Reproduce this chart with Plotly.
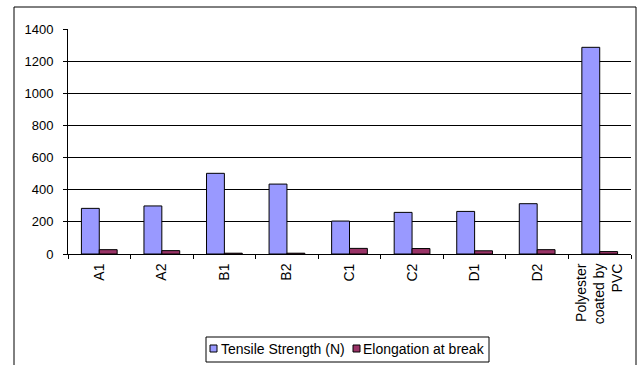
import plotly.graph_objects as go

categories = ["A1", "A2", "B1", "B2", "C1", "C2", "D1", "D2", "Polyester<br>coated by<br>PVC"]
tensile_strength = [284, 299, 502, 435, 205, 259, 265, 313, 1286]
elongation = [27, 21, 5, 5, 35, 34, 20, 27, 15]
y_ticks = [0, 200, 400, 600, 800, 1000, 1200, 1400]
series_names = ["Tensile Strength (N)", "Elongation at break"]
series_colors = ["#9999FF", "#993366"]

FONT = "Liberation Sans, Arial, sans-serif"

fig = go.Figure()
for name, color, values in zip(series_names, series_colors, [tensile_strength, elongation]):
    fig.add_trace(go.Bar(
        name=name, x=categories, y=values,
        marker=dict(color=color, line=dict(color="black", width=1)),
    ))

# Plot area spans 68..631 px horizontally and 29..254 px vertically;
# helpers turn pixel offsets into paper coordinates for the legend box.
L, R, T, B = 68, 631, 29, 254
def px(x):
    return (x - L) / (R - L)
def py(y):
    return (B - y) / (B - T)

shapes = [
    # chart-area frame
    dict(type="rect", xref="paper", yref="paper",
         x0=px(14), x1=px(636), y0=py(400), y1=py(7),
         line=dict(color="black", width=1), fillcolor="rgba(0,0,0,0)"),
    # legend frame
    dict(type="rect", xref="paper", yref="paper",
         x0=px(206), x1=px(489), y0=py(362), y1=py(337),
         line=dict(color="black", width=1), fillcolor="white"),
]
annotations = []
swatch_x = [210, 353]
text_x = [220, 362]
for sx, tx, name, color in zip(swatch_x, text_x, series_names, series_colors):
    shapes.append(dict(type="rect", xref="paper", yref="paper",
                       x0=px(sx), x1=px(sx + 7), y0=py(352), y1=py(345),
                       line=dict(color="black", width=1), fillcolor=color))
    annotations.append(dict(text=name, xref="paper", yref="paper",
                            x=px(tx), y=py(348.5), xanchor="left", yanchor="middle",
                            showarrow=False, font=dict(size=14, family=FONT, color="black"),
                            borderpad=0))

fig.update_layout(
    width=641, height=365,
    margin=dict(l=L, r=641 - R, t=T, b=365 - B),
    paper_bgcolor="white", plot_bgcolor="white",
    barmode="group", bargap=0.4286, bargroupgap=0,
    font=dict(family=FONT, size=13, color="black"),
    showlegend=False,
    xaxis=dict(
        type="category", tickangle=-90, tickson="boundaries",
        ticks="outside", ticklen=4, tickcolor="black",
        showline=True, linecolor="black", linewidth=1,
        showgrid=False, tickfont=dict(size=14), automargin=False,
        ticklabelstandoff=3,
    ),
    yaxis=dict(
        range=[0, 1400], tickvals=y_ticks, ticks="outside", ticklen=4,
        tickcolor="black", showline=True, linecolor="black", linewidth=1,
        showgrid=True, gridcolor="black", gridwidth=1, zeroline=False,
        tickfont=dict(size=13), automargin=False, ticklabelstandoff=7,
    ),
    shapes=shapes,
    annotations=annotations,
)

fig.write_html("out.html")
